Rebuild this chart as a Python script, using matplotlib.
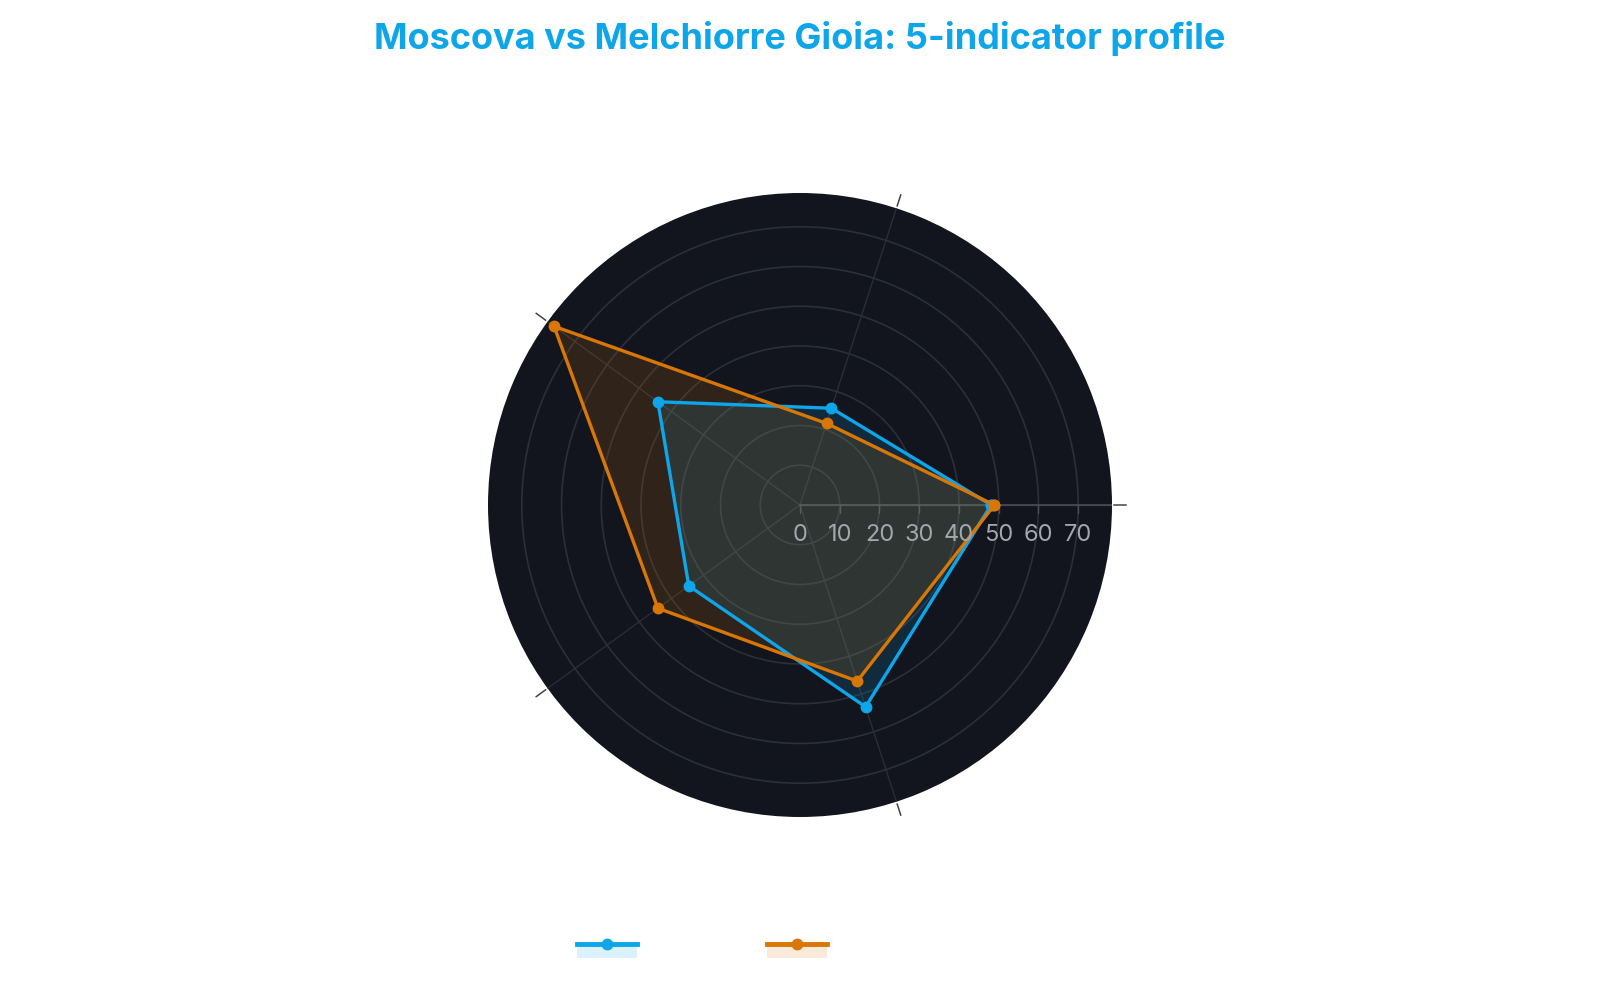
import numpy as np
import matplotlib
matplotlib.use('Agg')
import matplotlib.pyplot as plt
from matplotlib.lines import Line2D
from matplotlib.patches import Rectangle

# Dados do grafico
categorias = ['Indicador 1', 'Indicador 2', 'Indicador 3', 'Indicador 4', 'Indicador 5']
moscova = [48.1, 25.6, 44.2, 34.6, 53.4]
gioia = [48.9, 21.6, 76.5, 44.2, 46.6]
series_nomes = ['Moscova', 'Melchiorre Gioia']
r_ticks = [0, 10, 20, 30, 40, 50, 60, 70]
r_max = 78.5

cor_azul = '#0EA5E9'
cor_laranja = '#D97706'
fundo_polar = '#12151E'
cor_grade = '#2B2F38'

plt.rcParams['font.family'] = ['Inter', 'DejaVu Sans']

fig = plt.figure(figsize=(16, 10), dpi=100)
ax = fig.add_axes([0.305, 0.183, 0.39, 0.624], projection='polar')
ax.set_facecolor(fundo_polar)

n = len(categorias)
angulos = np.deg2rad(np.arange(n) * 360.0 / n)
ang_fechado = np.append(angulos, angulos[0])

# Series
for valores, cor in [(moscova, cor_azul), (gioia, cor_laranja)]:
    v = np.append(valores, valores[0])
    ax.fill(ang_fechado, v, color=cor, alpha=0.15, lw=0, zorder=3)
    ax.plot(ang_fechado, v, color=cor, lw=2.4, marker='o', ms=7.5, zorder=4)

ax.set_ylim(0, r_max)
ax.set_yticks(r_ticks[1:])
ax.set_yticklabels([])
ax.set_xticks(angulos)
ax.set_xticklabels([])
ax.grid(True, color=cor_grade, lw=1.2)
ax.xaxis.grid(True, color='#2A2D36', lw=1.0)
ax.spines['polar'].set_visible(False)
ax.tick_params(length=0)

# ticks angulares do lado de fora
for a in angulos:
    ax.plot([a, a], [r_max * 1.008, r_max * 1.045], color='#444444', lw=1.1, clip_on=False, zorder=1)

# Eixo radial (linha em 0 graus, ticks e rotulos)
ax.plot([0, 0], [0, r_max], color='#4A4D55', lw=1.2, zorder=2)
ax.plot([0] * len(r_ticks), r_ticks, ls='none', marker=3, ms=6, mew=1.0, color='#4A4D55', zorder=2)
for t in r_ticks:
    ax.annotate(str(t), xy=(0, t), xytext=(0, -14), textcoords='offset points',
                ha='center', va='top', fontsize=17, color='#A3A6AD', zorder=5)

# Titulo
fig.text(0.5, 0.961, 'Moscova vs Melchiorre Gioia: 5-indicator profile', ha='center', va='center',
         fontsize=26, fontweight='bold', color='#0EA5E9')


# Legenda com linha + area
class HandlerArea:
    def legend_artist(self, legend, orig_handle, fontsize, handlebox):
        x0, y0 = handlebox.xdescent, handlebox.ydescent
        w, h = handlebox.width, handlebox.height
        cor = orig_handle.get_color()
        tr = handlebox.get_transform()
        ylin = y0 + h * 0.95
        rect = Rectangle((x0, y0 - h * 0.25), w, h * 1.2, facecolor=cor, alpha=0.15, lw=0, transform=tr)
        linha = Line2D([x0, x0 + w], [ylin, ylin], color=cor, lw=3.5, transform=tr)
        marc = Line2D([x0 + w / 2], [ylin], marker='o', ms=7.5, color=cor, transform=tr)
        handlebox.add_artist(rect)
        handlebox.add_artist(linha)
        handlebox.add_artist(marc)
        return linha


handles = [Line2D([], [], color=cor_azul), Line2D([], [], color=cor_laranja)]
leg = fig.legend(handles, series_nomes, loc='center left', bbox_to_anchor=(0.3606, 0.049), ncol=2,
                 frameon=False, fontsize=12, handlelength=3.6, handletextpad=0.5, columnspacing=3.0,
                 borderpad=0, borderaxespad=0, handler_map={Line2D: HandlerArea()})
for txt in leg.get_texts():
    txt.set_color('white')

fig.savefig('out.png', dpi=100, facecolor='white')
